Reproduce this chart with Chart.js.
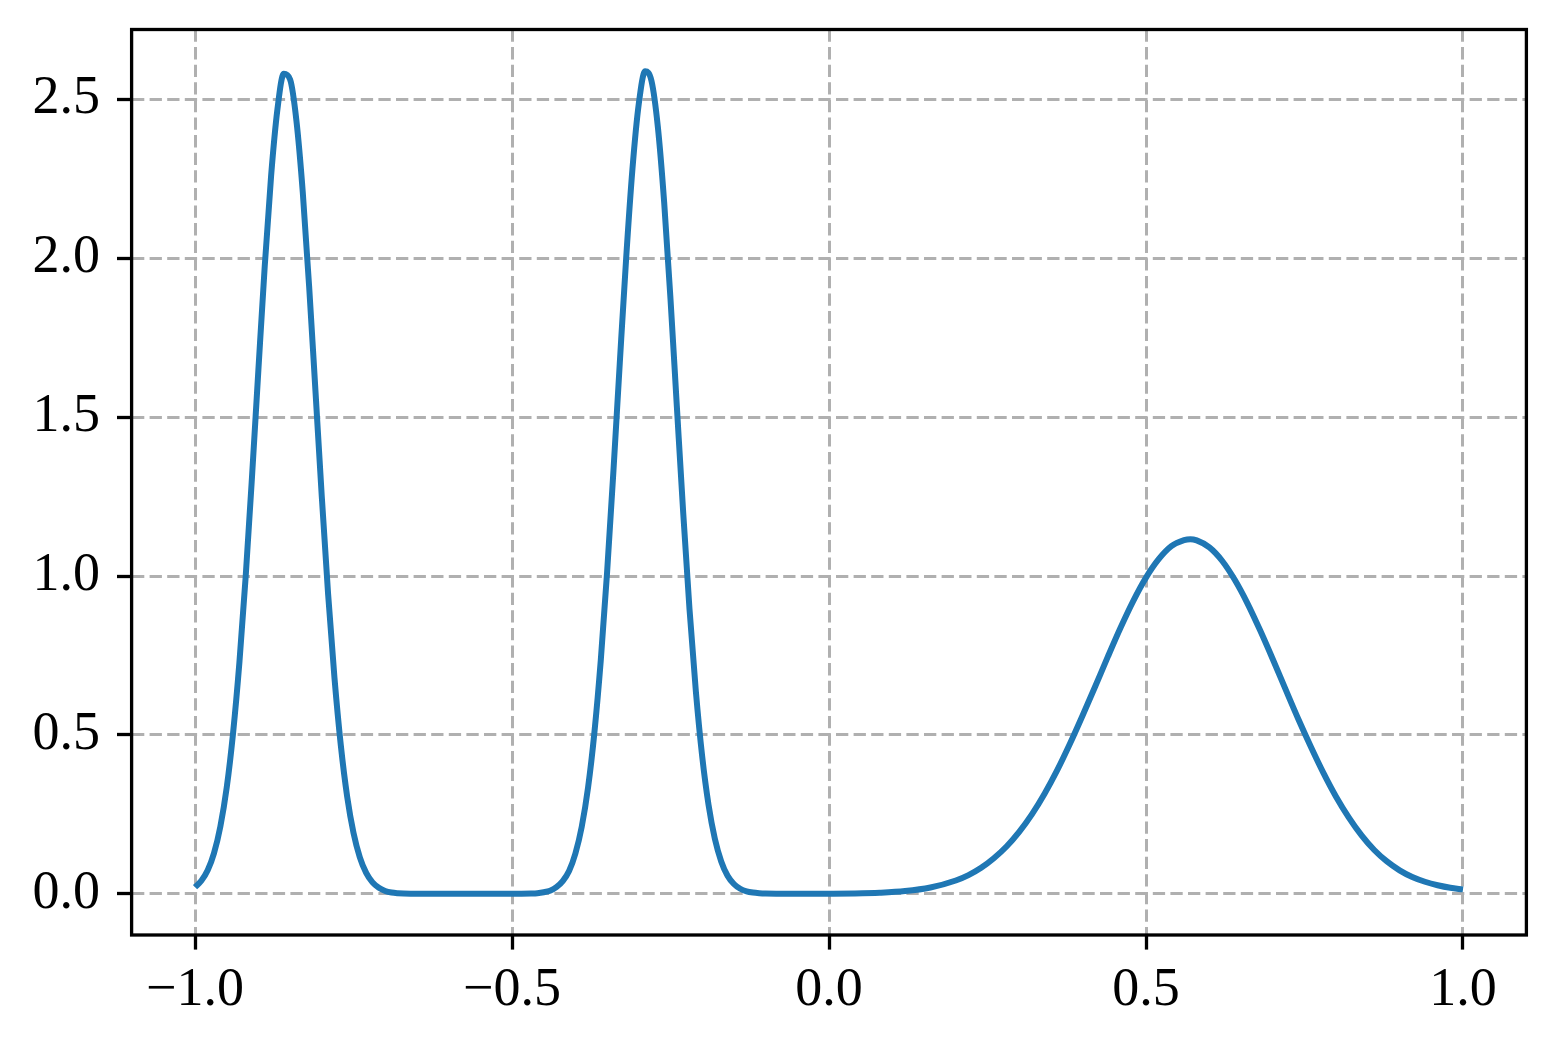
<!DOCTYPE html>
<html>
<head>
<meta charset="utf-8">
<script src="https://cdn.jsdelivr.net/npm/chart.js@4/dist/chart.umd.min.js"></script>
<style>
    body { margin: 0; background: #fff; }
    #wrap { width: 1556px; height: 1046px; }
</style>
</head>
<body>
<div id="wrap"><canvas id="density_chart" width="1556" height="1046"></canvas></div>
<script>
// values
const x_values = [
    -1.00, -0.99, -0.98, -0.97, -0.96, -0.95, -0.94, -0.93, -0.92, -0.91,
    -0.90, -0.89, -0.88, -0.87, -0.86, -0.85, -0.84, -0.83, -0.82, -0.81,
    -0.80, -0.79, -0.78, -0.77, -0.76, -0.75, -0.74, -0.73, -0.72, -0.71,
    -0.70, -0.69, -0.68, -0.66, -0.62, -0.56, -0.50,
    -0.47, -0.46, -0.45, -0.44, -0.43, -0.42, -0.41, -0.40, -0.39, -0.38,
    -0.37, -0.36, -0.35, -0.34, -0.33, -0.32, -0.31, -0.30, -0.29, -0.28,
    -0.27, -0.26, -0.25, -0.24, -0.23, -0.22, -0.21, -0.20, -0.19, -0.18,
    -0.17, -0.16, -0.15, -0.14, -0.13, -0.12, -0.11, -0.10, -0.06, -0.02,
    0.00, 0.04, 0.08, 0.12, 0.16, 0.20, 0.22, 0.24, 0.26, 0.28,
    0.30, 0.32, 0.34, 0.36, 0.38, 0.40, 0.42, 0.44, 0.46, 0.48,
    0.50, 0.52, 0.54, 0.56, 0.57, 0.58, 0.60, 0.62, 0.64, 0.66, 0.68,
    0.70, 0.72, 0.74, 0.76, 0.78, 0.80, 0.82, 0.84, 0.86, 0.88,
    0.90, 0.92, 0.94, 0.96, 0.98, 1.00
];
const y_values = [
    0.021, 0.041, 0.074, 0.128, 0.212, 0.334, 0.505, 0.727, 1.000, 1.315,
    1.649, 1.975, 2.258, 2.468, 2.580, 2.562, 2.432, 2.207, 1.912, 1.582,
    1.249, 0.942, 0.679, 0.467, 0.306, 0.192, 0.115, 0.066, 0.036, 0.019,
    0.009, 0.004, 0.002, 0.0005, 0.0, 0.0, 0.0,
    0.001, 0.002, 0.005, 0.010, 0.021, 0.040, 0.072, 0.127, 0.211, 0.335,
    0.508, 0.734, 1.012, 1.331, 1.670, 1.998, 2.281, 2.486, 2.588, 2.558,
    2.414, 2.176, 1.871, 1.534, 1.200, 0.895, 0.637, 0.432, 0.280, 0.173,
    0.102, 0.057, 0.031, 0.016, 0.008, 0.004, 0.002, 0.001, 0.0003, 0.0003,
    0.0005, 0.0013, 0.0035, 0.0086, 0.020, 0.042, 0.059, 0.082, 0.112, 0.149,
    0.195, 0.250, 0.315, 0.389, 0.472, 0.561, 0.653, 0.747, 0.838, 0.922,
    0.995, 1.053, 1.094, 1.113, 1.116, 1.112, 1.090, 1.048, 0.988, 0.914, 0.829,
    0.738, 0.644, 0.551, 0.463, 0.380, 0.305, 0.240, 0.184, 0.138, 0.102,
    0.074, 0.053, 0.038, 0.027, 0.019, 0.014
];
const x_ticks = [-1.0, -0.5, 0.0, 0.5, 1.0];
const y_ticks = [0.0, 0.5, 1.0, 1.5, 2.0, 2.5];

const tick_font = { family: "'Liberation Serif', 'DejaVu Serif', serif", size: 54 };

function fmtTick(v) {
    return (v < 0 ? "\u2212" : "") + Math.abs(v).toFixed(1);
}

// box round the plot area (matplotlib style spines)
const frame_plugin = {
    id: "frame",
    afterDraw(chart) {
        const { ctx, chartArea } = chart;
        ctx.save();
        ctx.strokeStyle = "#000";
        ctx.lineWidth = 3.3;
        ctx.strokeRect(chartArea.left, chartArea.top,
            chartArea.right - chartArea.left, chartArea.bottom - chartArea.top);
        ctx.restore();
    },
};

const grid_opts = {
    color: "#b0b0b0",
    lineWidth: 3,
    tickColor: "#000",
    tickWidth: 3.3,
    tickLength: 14.6,
};

const points = x_values.map((x, i) => ({ x: x, y: y_values[i] }));

new Chart(document.getElementById("density_chart"), {
    type: "line",
    data: {
        datasets: [
            {
                data: points,
                borderColor: "#1f77b4",
                borderWidth: 6,
                pointRadius: 0,
                fill: false,
                cubicInterpolationMode: "monotone",
                borderCapStyle: "butt",
            },
        ],
    },
    options: {
        responsive: false,
        animation: false,
        devicePixelRatio: 1,
        layout: { padding: { top: 29.5, right: 29.6, left: 0, bottom: 0 } },
        plugins: {
            legend: { display: false },
            tooltip: { enabled: false },
        },
        scales: {
            x: {
                type: "linear",
                min: -1.1,
                max: 1.1,
                afterBuildTicks: (scale) => {
                    scale.ticks = x_ticks.map((v) => ({ value: v }));
                },
                afterFit: (scale) => {
                    scale.height = 111;
                    scale.paddingLeft = 0;
                    scale.paddingRight = 0;
                },
                ticks: {
                    color: "#000",
                    font: tick_font,
                    padding: 9,
                    maxRotation: 0,
                    callback: (v) => fmtTick(v),
                },
                grid: grid_opts,
                border: { display: false, dash: [12.3, 5.3] },
            },
            y: {
                type: "linear",
                min: -0.1295,
                max: 2.7195,
                afterBuildTicks: (scale) => {
                    scale.ticks = y_ticks.map((v) => ({ value: v }));
                },
                afterFit: (scale) => {
                    scale.width = 131.6;
                    scale.paddingTop = 0;
                    scale.paddingBottom = 0;
                },
                ticks: {
                    color: "#000",
                    font: tick_font,
                    padding: 17,
                    callback: (v) => fmtTick(v),
                },
                grid: grid_opts,
                border: { display: false, dash: [12.3, 5.3] },
            },
        },
    },
    plugins: [frame_plugin],
});
</script>
</body>
</html>
